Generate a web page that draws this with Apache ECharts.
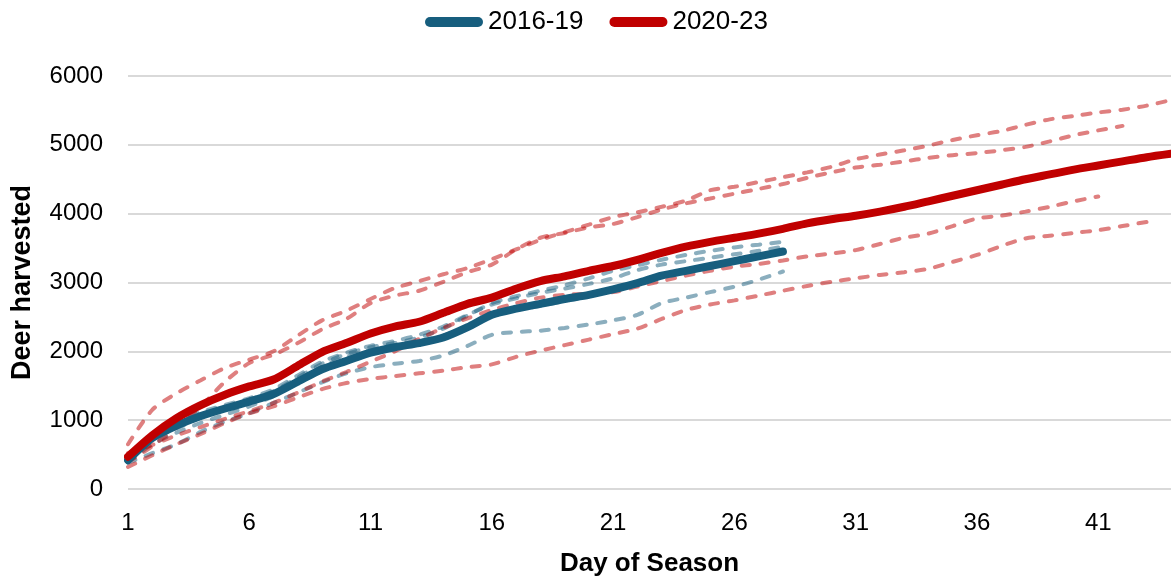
<!DOCTYPE html>
<html>
<head>
<meta charset="utf-8">
<title>Cumulative deer harvest by day of season</title>
<script src="https://cdn.jsdelivr.net/npm/echarts@6/dist/echarts.min.js"></script>
<style>
  html, body { margin: 0; padding: 0; background: #ffffff; }
  #chart { width: 1171px; height: 582px; }
</style>
</head>
<body>
<div id="chart"></div>
<script>
// Day of season (x categories)
const days = [];
for (let d = 1; d <= 44; d++) days.push(String(d));

// Four-year averages, cumulative deer harvested
const avg2016_19 = [420, 740, 920, 1060, 1170, 1270, 1380, 1560, 1740, 1860,
  1980, 2060, 2120, 2200, 2350, 2530, 2620, 2690, 2760, 2820,
  2900, 2990, 3100, 3170, 3240, 3310, 3380, 3450];
const avg2020_23 = [470, 780, 1030, 1220, 1370, 1490, 1590, 1790, 1990, 2120,
  2260, 2360, 2430, 2560, 2690, 2780, 2910, 3020, 3090, 3170,
  3240, 3330, 3430, 3520, 3590, 3650, 3710, 3780, 3860, 3920,
  3970, 4030, 4100, 4180, 4260, 4340, 4420, 4500, 4570, 4640,
  4700, 4760, 4820, 4870];

// Individual seasons, 2016-2019
const y2016 = [450, 800, 1000, 1120, 1220, 1320, 1450, 1650, 1850, 1980,
  2080, 2150, 2240, 2360, 2530, 2680, 2770, 2850, 2910, 2980,
  3060, 3180, 3260, 3310, 3360, 3410, 3460, 3520];
const y2017 = [470, 720, 880, 1040, 1180, 1300, 1420, 1620, 1820, 1960,
  2060, 2120, 2200, 2330, 2520, 2700, 2800, 2880, 2960, 3060,
  3170, 3250, 3330, 3400, 3460, 3510, 3550, 3590];
const y2018 = [390, 650, 820, 960, 1080, 1200, 1350, 1560, 1780, 1920,
  2020, 2090, 2150, 2230, 2360, 2520, 2600, 2660, 2730, 2800,
  2900, 2990, 3100, 3170, 3260, 3320, 3390, 3450];
const y2019 = [380, 520, 650, 830, 980, 1100, 1250, 1400, 1550, 1680,
  1770, 1820, 1860, 1940, 2080, 2240, 2280, 2300, 2340, 2390,
  2450, 2530, 2700, 2780, 2860, 2940, 3040, 3160];

// Individual seasons, 2020-2023
const y2020 = [650, 1150, 1390, 1580, 1760, 1880, 2000, 2230, 2450, 2590,
  2760, 2920, 3020, 3120, 3210, 3340, 3480, 3620, 3730, 3840,
  3950, 4020, 4100, 4190, 4340, 4390, 4460, 4530, 4600, 4680,
  4790, 4860, 4920, 4990, 5070, 5140, 5200, 5290, 5370, 5420,
  5470, 5510, 5570, 5650];
const y2021 = [390, 620, 900, 1200, 1560, 1830, 1950, 2120, 2320, 2470,
  2700, 2810, 2880, 3010, 3150, 3260, 3480, 3650, 3720, 3800,
  3850, 3950, 4060, 4150, 4220, 4290, 4360, 4430, 4520, 4600,
  4670, 4710, 4760, 4810, 4850, 4880, 4920, 4970, 5050, 5140,
  5210, 5275];
const y2022 = [520, 640, 780, 900, 1020, 1130, 1250, 1400, 1560, 1700,
  1850, 2000, 2180, 2340, 2480, 2600, 2700, 2780, 2820, 2840,
  2860, 2940, 3020, 3100, 3170, 3230, 3270, 3320, 3380, 3420,
  3470, 3560, 3650, 3710, 3820, 3930, 3970, 4030, 4100, 4180,
  4250];
const y2023 = [320, 490, 650, 800, 960, 1100, 1200, 1330, 1450, 1540,
  1600, 1640, 1680, 1720, 1770, 1810, 1920, 2010, 2090, 2170,
  2250, 2330, 2470, 2600, 2680, 2740, 2810, 2880, 2950, 3010,
  3060, 3110, 3150, 3200, 3300, 3400, 3530, 3640, 3680, 3720,
  3760, 3820, 3880];

// Y axis ticks
const yMin = 0, yMax = 6000, yStep = 1000;

const BLUE = '#175e7e';
const RED = '#c00000';
const BLUE_LIGHT = 'rgba(23,94,126,0.5)';
const RED_LIGHT = 'rgba(192,0,0,0.5)';
const FONT = '"Liberation Sans", Arial, sans-serif';

function yearLine(name, data, color) {
  return {
    name: name,
    type: 'line',
    data: data,
    symbol: 'none',
    smooth: 0.25,
    silent: true,
    z: 2,
    lineStyle: { color: color, width: 4, type: [8, 11], cap: 'round' }
  };
}

function avgLine(name, data, color, z) {
  return {
    name: name,
    type: 'line',
    data: data,
    symbol: 'none',
    smooth: 0.25,
    z: z,
    itemStyle: { color: color },
    lineStyle: { color: color, width: 8, cap: 'round', join: 'round' }
  };
}

// rounded, thick line marker for the legend
const pill = 'path://M5,0 L53,0 A5,5 0 0 1 53,10 L5,10 A5,5 0 0 1 5,0 Z';

const chart = echarts.init(document.getElementById('chart'), null, { renderer: 'canvas' });
chart.setOption({
  animation: false,
  backgroundColor: '#ffffff',
  textStyle: { fontFamily: FONT },
  legend: {
    top: 4,
    left: 420,
    itemWidth: 58,
    itemHeight: 10,
    itemGap: 26,
    data: [
      { name: '2016-19', icon: pill },
      { name: '2020-23', icon: pill }
    ],
    textStyle: { fontFamily: FONT, fontSize: 26, color: '#000000' }
  },
  grid: { left: 128, right: -6, top: 76, bottom: 92, containLabel: false },
  xAxis: {
    type: 'category',
    data: days,
    boundaryGap: false,
    name: 'Day of Season',
    nameLocation: 'middle',
    nameGap: 62,
    nameTextStyle: { fontFamily: FONT, fontSize: 26, fontWeight: 'bold', color: '#000000' },
    axisLine: { show: false },
    axisTick: { show: false },
    axisLabel: { interval: 4, margin: 22, fontSize: 24, color: '#000000', fontFamily: FONT },
    splitLine: { show: false }
  },
  yAxis: {
    type: 'value',
    min: yMin,
    max: yMax,
    interval: yStep,
    name: 'Deer harvested',
    nameLocation: 'middle',
    nameGap: 92,
    nameRotate: 90,
    nameTextStyle: { fontFamily: FONT, fontSize: 27, fontWeight: 'bold', color: '#000000' },
    axisLine: { show: false },
    axisTick: { show: false },
    axisLabel: {
      margin: 25, fontSize: 24, color: '#000000', fontFamily: FONT,
      formatter: function (v) { return String(v); }
    },
    splitLine: { lineStyle: { color: '#d9d9d9', width: 2 } }
  },
  series: [
    yearLine('2016', y2016, BLUE_LIGHT),
    yearLine('2017', y2017, BLUE_LIGHT),
    yearLine('2018', y2018, BLUE_LIGHT),
    yearLine('2019', y2019, BLUE_LIGHT),
    yearLine('2020', y2020, RED_LIGHT),
    yearLine('2021', y2021, RED_LIGHT),
    yearLine('2022', y2022, RED_LIGHT),
    yearLine('2023', y2023, RED_LIGHT),
    avgLine('2016-19', avg2016_19, BLUE, 4),
    avgLine('2020-23', avg2020_23, RED, 5)
  ]
});
</script>
</body>
</html>
